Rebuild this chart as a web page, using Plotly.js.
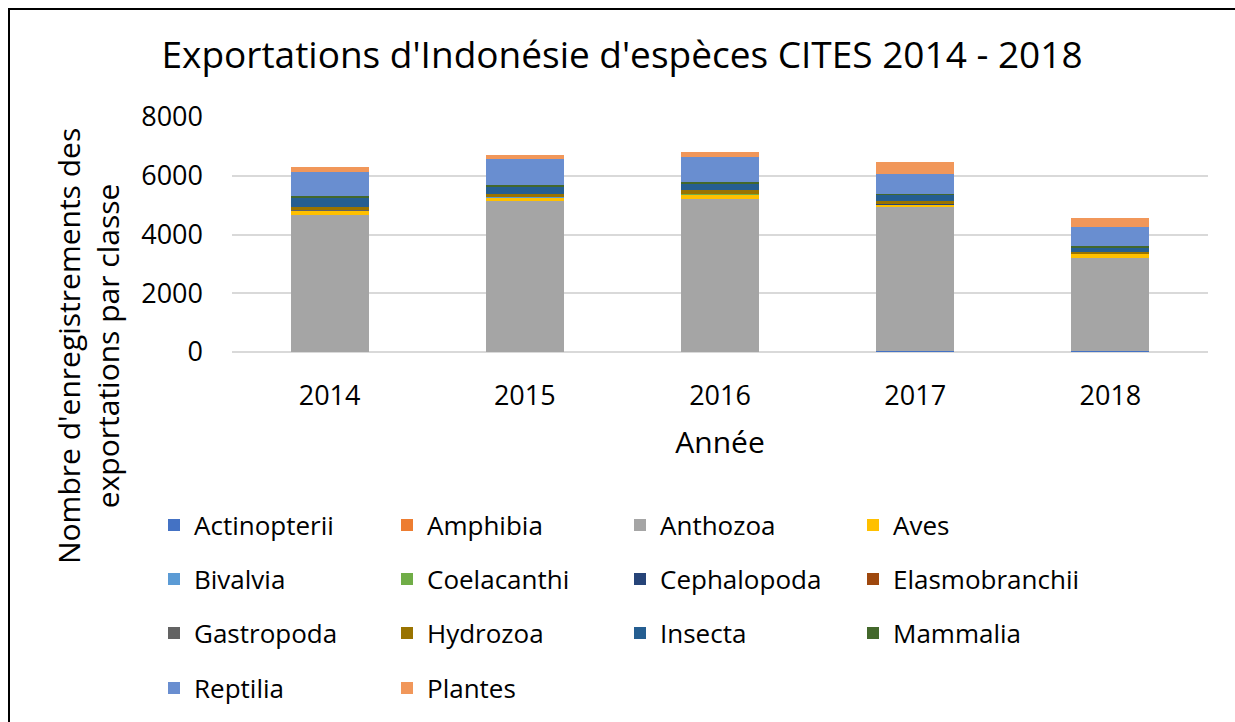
<!DOCTYPE html>
<html>
<head>
<meta charset="utf-8">
<script src="https://cdn.plot.ly/plotly-3.0.1.min.js"></script>
<style>
  html, body { margin: 0; padding: 0; background: #fff; overflow: hidden; }
  #frame { position: absolute; left: 8px; top: 8px; width: 1240px; height: 720px;
           border-left: 2px solid #000; border-top: 2px solid #000; }
  #chart { position: absolute; left: 0; top: 0; width: 1235px; height: 722px; }
</style>
</head>
<body>
<div id="chart"></div>
<div id="frame"></div>
<script>
const years = ['2014', '2015', '2016', '2017', '2018'];

const seriesNames = ['Actinopterii', 'Amphibia', 'Anthozoa', 'Aves', 'Bivalvia', 'Coelacanthi',
  'Cephalopoda', 'Elasmobranchii', 'Gastropoda', 'Hydrozoa', 'Insecta', 'Mammalia', 'Reptilia', 'Plantes'];

const actinopterii   = [10, 10, 10, 20, 50];
const amphibia       = [0, 0, 0, 0, 0];
const anthozoa       = [4640, 5120, 5210, 4900, 3160];
const aves           = [145, 125, 136, 90, 113];
const bivalvia       = [5, 5, 5, 5, 5];
const coelacanthi    = [2, 2, 15, 2, 2];
const cephalopoda    = [10, 10, 10, 10, 10];
const elasmobranchii = [3, 3, 3, 3, 3];
const gastropoda     = [5, 5, 5, 5, 5];
const hydrozoa       = [110, 95, 130, 105, 70];
const insecta        = [300, 245, 200, 200, 110];
const mammalia       = [75, 65, 55, 45, 65];
const reptilia       = [820, 875, 870, 675, 675];
const plantes        = [160, 158, 158, 418, 283];

const seriesValues = [actinopterii, amphibia, anthozoa, aves, bivalvia, coelacanthi,
  cephalopoda, elasmobranchii, gastropoda, hydrozoa, insecta, mammalia, reptilia, plantes];

const colors = ['#4472C4', '#ED7D31', '#A5A5A5', '#FFC000', '#5B9BD5', '#70AD47',
  '#264478', '#9E480E', '#636363', '#997300', '#255E91', '#43682B', '#698ED0', '#F1975A'];

const FONT = "'Open Sans', 'Liberation Sans', sans-serif";
const legendIds = ['legend', 'legend2', 'legend3', 'legend4'];

const traces = seriesNames.map((name, i) => ({
  type: 'bar',
  name: name,
  x: years,
  y: seriesValues[i],
  marker: { color: colors[i] },
  legend: legendIds[Math.floor(i / 4)],
  hoverinfo: 'x+y+name'
}));

// plot area: x 232..1208 px, y 117..353 px
const plotTop = 117, plotBottom = 353, plotLeft = 232, plotRight = 1208;
const py = px => (plotBottom - px) / (plotBottom - plotTop);
const pxX = px => (px - plotLeft) / (plotRight - plotLeft);

const rowY = [525, 579, 633, 688];
const legendBase = {
  orientation: 'h',
  xanchor: 'left',
  yanchor: 'middle',
  x: pxX(154),
  entrywidth: 188,
  entrywidthmode: 'pixels',
  font: { family: FONT, size: 26, color: '#000' },
  bgcolor: 'rgba(0,0,0,0)',
  traceorder: 'normal'
};

const layout = {
  width: 1235,
  height: 722,
  margin: { l: plotLeft, r: 1235 - plotRight, t: plotTop, b: 722 - plotBottom },
  paper_bgcolor: '#fff',
  plot_bgcolor: '#fff',
  barmode: 'stack',
  bargap: 0.6,
  font: { family: FONT, color: '#000' },
  title: {
    text: "Exportations d'Indonésie d'espèces CITES 2014 - 2018",
    font: { family: FONT, size: 37, color: '#000' },
    xref: 'container', yref: 'container',
    x: 622 / 1235, xanchor: 'center',
    y: 1 - 55 / 722, yanchor: 'middle'
  },
  xaxis: {
    type: 'category',
    tickfont: { family: FONT, size: 27, color: '#000' },
    ticks: '',
    ticklabelstandoff: 25,
    showline: false,
    title: { text: 'Année', font: { family: FONT, size: 30, color: '#000' }, standoff: 19 }
  },
  yaxis: {
    range: [0, 8000],
    tickvals: [0, 2000, 4000, 6000, 8000],
    ticktext: ['0', '2000', '4000', '6000', '8000'],
    tickfont: { family: FONT, size: 27, color: '#000' },
    ticks: '',
    ticklabelstandoff: 28,
    gridcolor: '#d9d9d9',
    gridwidth: 2,
    zeroline: true,
    zerolinecolor: '#d9d9d9',
    zerolinewidth: 2,
    showline: false
  },
  annotations: [{
    text: "Nombre d'enregistrements des<br>exportations par classe",
    textangle: -90,
    xref: 'paper', yref: 'paper',
    x: pxX(88), y: py(347),
    xanchor: 'center', yanchor: 'middle',
    showarrow: false,
    align: 'center',
    font: { family: FONT, size: 30, color: '#000' }
  }],
  showlegend: true
};

legendIds.forEach((id, r) => {
  layout[id] = Object.assign({}, legendBase, { y: py(rowY[r]) });
});

Plotly.newPlot('chart', traces, layout, { displayModeBar: false, staticPlot: true });
</script>
</body>
</html>
